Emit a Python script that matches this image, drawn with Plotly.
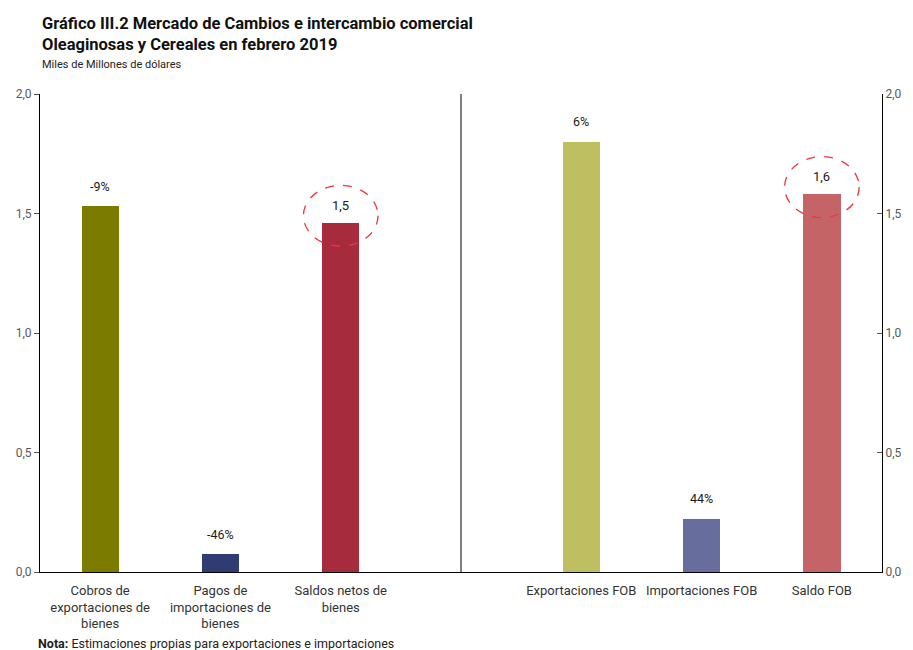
import plotly.graph_objects as go

categories = ["Cobros de<br>exportaciones de<br>bienes", "Pagos de<br>importaciones de<br>bienes",
              "Saldos netos de<br>bienes", "", "Exportaciones FOB", "Importaciones FOB", "Saldo FOB"]
values = [1.53, 0.075, 1.46, None, 1.80, 0.222, 1.58]
labels = ["-9%", "-46%", "1,5", "", "6%", "44%", "1,6"]
colors = ["#7B7B00", "#2F3C71", "#A62B3C", "rgba(0,0,0,0)", "#BDBF60", "#676E9E", "#C46466"]
circled = [2, 6]
yticks = [0, 0.5, 1.0, 1.5, 2.0]

FONT = "Roboto, sans-serif"
xpos = list(range(len(categories)))

fig = go.Figure()
fig.add_trace(go.Bar(
    x=xpos, y=[v if v is not None else 0 for v in values],
    marker=dict(color=colors, line=dict(width=0)),
    width=0.31, showlegend=False, hoverinfo="skip",
))
fig.add_trace(go.Scatter(x=[0], y=[0], yaxis="y2", mode="markers",
                         marker=dict(opacity=0), showlegend=False, hoverinfo="skip"))

for i, (v, t) in enumerate(zip(values, labels)):
    if v is None:
        continue
    fig.add_annotation(x=i, y=v, text=t, showarrow=False, yshift=20 if i not in circled else 18,
                       font=dict(family=FONT, size=13 if i in circled else 12.5, color="#1a1a1a"))

shapes = []
for i in circled:
    v = values[i]
    shapes.append(dict(type="circle", xref="x", yref="y", x0=i - 0.31, x1=i + 0.31,
                       y0=v - 0.097, y1=v + 0.158,
                       line=dict(color="#F0343C", width=1.3, dash="dash")))
shapes.append(dict(type="line", xref="x", yref="paper", x0=3, x1=3, y0=0, y1=1,
                   line=dict(color="#000000", width=1)))

fig.update_layout(
    width=913, height=650,
    margin=dict(l=40, r=31, t=94, b=78),
    paper_bgcolor="white", plot_bgcolor="white",
    separators=",.",
    bargap=0,
    shapes=shapes,
    xaxis=dict(range=[-0.5, 6.5], tickvals=xpos, ticktext=categories,
               showline=True, linecolor="#000000", linewidth=1, ticks="",
               showgrid=False, zeroline=False, ticklabelstandoff=6,
               tickfont=dict(family=FONT, size=13, color="#333333")),
    yaxis=dict(range=[0, 2], tickvals=yticks, tickformat=".1f", showgrid=False,
               showline=True, linecolor="#000000", linewidth=1, ticks="outside",
               ticklen=5, tickcolor="#555555", zeroline=False, automargin=False,
               tickfont=dict(family=FONT, size=12, color="#595959")),
    yaxis2=dict(range=[0, 2], tickvals=yticks, tickformat=".1f", overlaying="y", side="right",
                showgrid=False, showline=True, linecolor="#000000", linewidth=1, ticks="inside",
                ticklen=5, tickcolor="#555555", zeroline=False, automargin=False,
                tickfont=dict(family=FONT, size=12, color="#595959")),
    annotations=list(fig.layout.annotations) + [
        dict(xref="paper", yref="paper", x=0, y=1, yshift=82, xanchor="left",
             yanchor="top", showarrow=False, align="left",
             text="<b>Gráfico III.2 Mercado de Cambios e intercambio comercial<br>Oleaginosas y Cereales en febrero 2019</b>",
             font=dict(family=FONT, size=16.5, color="#111111")),
        dict(xref="paper", yref="paper", x=0, y=1, yshift=38, xanchor="left", yanchor="top",
             showarrow=False, text="Miles de Millones de dólares",
             font=dict(family=FONT, size=11, color="#222222")),
        dict(xref="paper", yref="paper", x=0, y=0, xshift=-4, yshift=-62, xanchor="left",
             yanchor="top", showarrow=False,
             text="<b>Nota:</b> Estimaciones propias para exportaciones e importaciones",
             font=dict(family=FONT, size=12.5, color="#222222")),
    ],
)

fig.write_html("out.html", config={"displayModeBar": False},
               post_script="document.body.style.margin='0px';document.body.style.overflow='hidden';")
